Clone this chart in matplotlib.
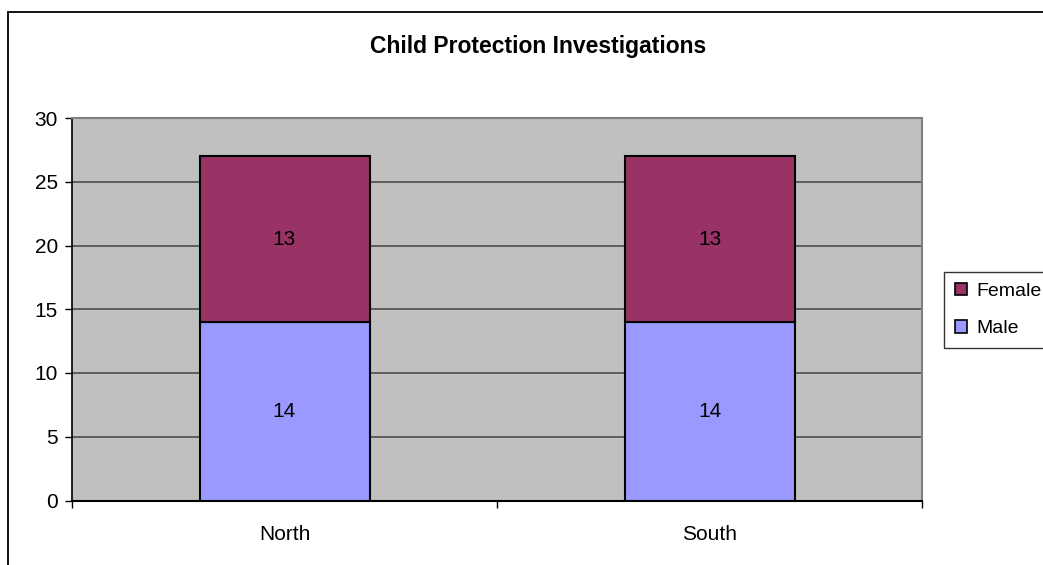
import matplotlib
matplotlib.use("Agg")
import matplotlib.pyplot as plt
from matplotlib.patches import Patch, Rectangle

plt.rcParams['font.family'] = ['Liberation Sans', 'DejaVu Sans']

regions = ["North", "South"]
male = [14, 14]
female = [13, 13]
y_ticks = [0, 5, 10, 15, 20, 25, 30]

W, H = 1043, 565
fig = plt.figure(figsize=(W / 100, H / 100), dpi=100)

# outer chart frame (right and bottom run off the canvas)
fig.patches.append(Rectangle((8 / W, -0.1), 1.2, (H - 12) / H + 0.1,
                             transform=fig.transFigure, fill=False,
                             edgecolor='black', linewidth=1.3))

# plot area in pixels
left, right, top, bottom = 72, 922, 118, 500.5
ax = fig.add_axes([left / W, (H - bottom) / H, (right - left) / W, (bottom - top) / H])
ax.set_facecolor('#c0c0c0')

x = list(range(len(regions)))
male_col = '#9999ff'
female_col = '#993366'
ax.bar(x, male, width=0.4, color=male_col, edgecolor='black', linewidth=1.5, zorder=3)
ax.bar(x, female, width=0.4, bottom=male, color=female_col, edgecolor='black',
       linewidth=1.5, zorder=3)

for i in x:
    ax.text(i, male[i] / 2, str(male[i]), ha='center', va='center', fontsize=15, zorder=4)
    ax.text(i, male[i] + female[i] / 2, str(female[i]), ha='center', va='center',
            fontsize=15, zorder=4)

ax.set_xlim(-0.5, len(regions) - 0.5)
ax.set_ylim(0, 30)
ax.set_yticks(y_ticks)
ax.set_yticklabels([str(t) for t in y_ticks], fontsize=15)
ax.yaxis.grid(True, color='#4d4d4d', linewidth=1.2, zorder=1)
ax.set_axisbelow(True)

ax.set_xticks(x)
ax.set_xticklabels(regions, fontsize=15)
ax.set_xticks([i - 0.5 for i in range(len(regions) + 1)], minor=True)
ax.tick_params(axis='x', which='major', length=0, pad=18)
ax.tick_params(axis='x', which='minor', length=5, width=1, direction='out')
ax.tick_params(axis='y', length=5, width=1, direction='out', pad=5)

ax.spines['top'].set_color('#808080')
ax.spines['right'].set_color('#808080')
ax.spines['top'].set_linewidth(1.5)
ax.spines['right'].set_linewidth(1.5)
ax.spines['left'].set_linewidth(1.2)
ax.spines['bottom'].set_linewidth(1.5)

fig.text(538 / W, (H - 47) / H, "Child Protection Investigations", ha='center',
         va='center', fontsize=16.5, fontweight='bold')

handles = [Patch(facecolor=female_col, edgecolor='black', linewidth=1.2),
           Patch(facecolor=male_col, edgecolor='black', linewidth=1.2)]
leg = fig.legend(handles, ["Female", "Male"], loc='upper left',
                 bbox_to_anchor=(944 / W, (H - 272) / H), fontsize=14,
                 frameon=True, fancybox=False, edgecolor='black',
                 handlelength=0.62, handleheight=0.62, handletextpad=0.5,
                 borderpad=0.55, labelspacing=1.05, borderaxespad=0)
leg.get_frame().set_linewidth(1.0)

fig.savefig("out.png", dpi=100)
